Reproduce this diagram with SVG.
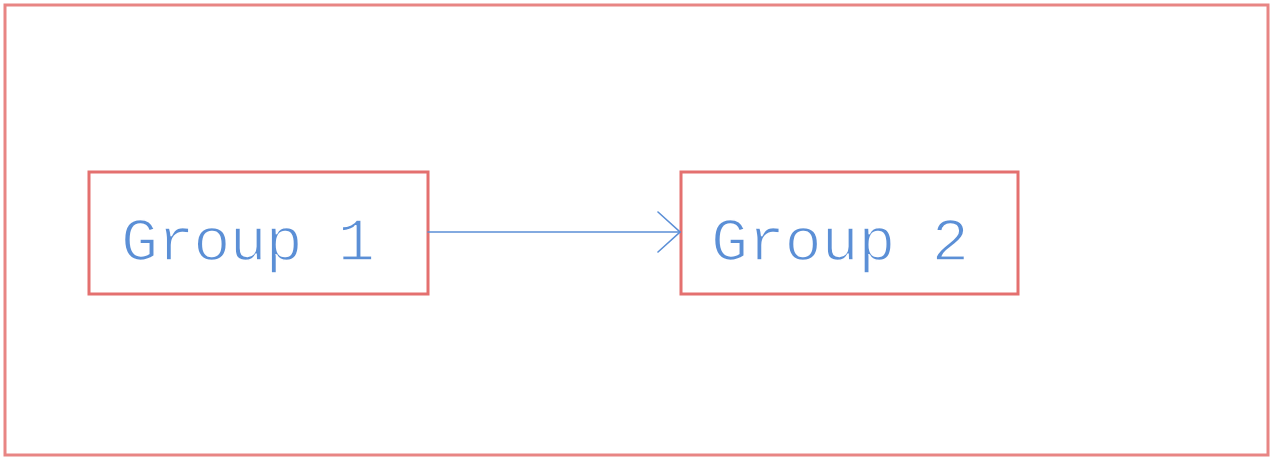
<svg xmlns="http://www.w3.org/2000/svg" width="1276" height="459" viewBox="0 0 1276 459">
  <style>
    .frame { fill: none; stroke: #e88584; stroke-width: 3; }
    .box { fill: none; stroke: #e4706f; stroke-width: 3; }
    /* thin plotter-style lettering: glyph fill trimmed by a white outline */
    .label { font-family: "Liberation Mono", "DejaVu Sans Mono", monospace; font-size: 62px; fill: #5b8fd6; stroke: #ffffff; stroke-width: 1.6; paint-order: fill; }
    .edge { fill: none; stroke: #5b8fd6; stroke-width: 1.6; stroke-linecap: round; stroke-linejoin: round; }
  </style>
  <defs>
    <marker id="open-arrow" viewBox="0 0 24 42" refX="23" refY="21" markerWidth="24" markerHeight="42" markerUnits="userSpaceOnUse" orient="auto">
      <path d="M1,1 L23,21 L1,41" fill="none" stroke="#5b8fd6" stroke-width="1.6" stroke-linecap="round"/>
    </marker>
  </defs>
  <rect width="1276" height="459" fill="#ffffff"/>
  <rect class="frame" x="5" y="5" width="1263" height="450"/>

  <g id="group1">
    <rect class="box" x="89" y="172" width="339" height="122"/>
    <text class="label" x="121" y="260" textLength="254" lengthAdjust="spacing">Group 1</text>
  </g>

  <g id="group2">
    <rect class="box" x="681" y="172" width="337" height="122"/>
    <text class="label" x="711" y="260" textLength="258" lengthAdjust="spacing">Group 2</text>
  </g>

  <g id="connectors">
    <line class="edge" x1="428" y1="232" x2="680" y2="232" marker-end="url(#open-arrow)"/>
  </g>
</svg>
